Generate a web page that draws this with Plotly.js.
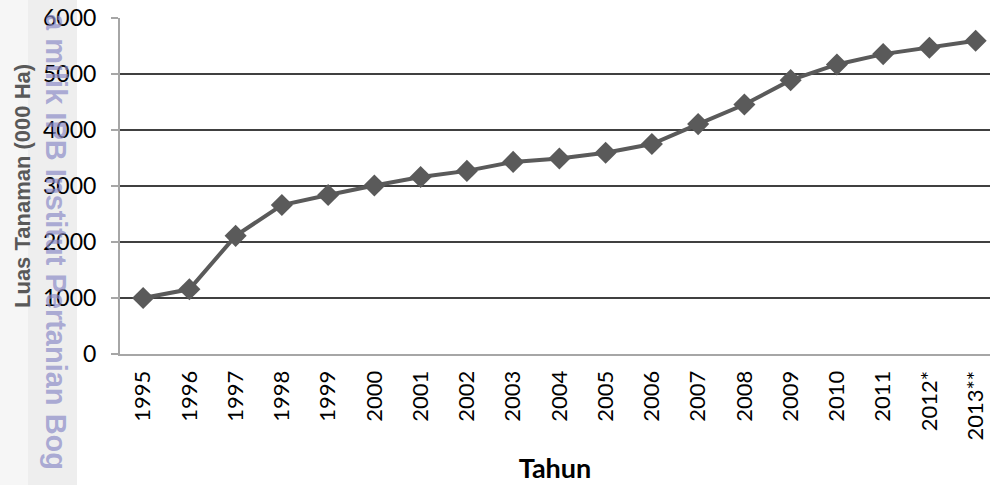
<!DOCTYPE html>
<html>
<head>
<meta charset="utf-8">
<script src="https://cdn.plot.ly/plotly-3.0.1.min.js"></script>
<style>html,body{margin:0;padding:0;background:#fff}#chart{width:990px;height:485px}</style>
</head>
<body>
<div id="chart"></div>
<script>
const years = ["1995","1996","1997","1998","1999","2000","2001","2002","2003","2004","2005","2006","2007","2008","2009","2010","2011","2012*","2013**"];
const luas = [1000,1155,2110,2660,2840,3010,3160,3270,3430,3490,3595,3750,4105,4455,4890,5170,5355,5470,5595];
const yTicks = [0,1000,2000,3000,4000,5000,6000];

const L = 120, W = 870, T = 18, H = 336;
const px = p => (p - L) / W;
const py = p => (T + H - p) / H;

const trace = {
  x: years, y: luas, type: 'scatter', mode: 'lines+markers',
  line: {color: '#5a5a5a', width: 4},
  marker: {symbol: 'diamond', size: 17, color: '#5a5a5a'},
  hoverinfo: 'x+y'
};

const layout = {
  width: 990, height: 485,
  margin: {l: L, r: 0, t: T, b: 485 - T - H},
  paper_bgcolor: '#ffffff', plot_bgcolor: '#ffffff',
  showlegend: false,
  font: {family: 'Lato, "Open Sans", sans-serif', color: '#000'},
  xaxis: {
    type: 'category', range: [-0.5, 18.31],
    tickangle: -90, tickfont: {size: 22, family: 'Lato, sans-serif', color: '#000'},
    showgrid: false, showline: true, linecolor: '#a6a6a6', linewidth: 2,
    ticks: '', ticklabelstandoff: 6,
    zeroline: false,
    title: {text: '<b>Tahun</b>', font: {size: 27, family: 'Lato, sans-serif', color: '#000'}, standoff: 20}
  },
  yaxis: {
    range: [0, 6000], tickvals: yTicks, ticktext: yTicks.map(String),
    tickfont: {size: 23, family: 'Lato, sans-serif', color: '#000'},
    showgrid: true, gridcolor: '#404040', gridwidth: 1.5,
    showline: true, linecolor: '#a6a6a6', linewidth: 2,
    ticks: 'outside', ticklen: 7, tickcolor: '#a6a6a6', tickwidth: 1.5,
    ticklabelstandoff: 10,
    zeroline: false,
    title: {text: ''}
  },
  shapes: [
    {type: 'rect', xref: 'paper', yref: 'paper', x0: px(0), x1: px(28), y0: py(485), y1: py(0), fillcolor: '#f6f6f6', line: {width: 0}, layer: 'below'},
    {type: 'rect', xref: 'paper', yref: 'paper', x0: px(28), x1: px(77), y0: py(485), y1: py(0), fillcolor: '#eeeeee', line: {width: 0}, layer: 'below'}
  ],
  annotations: [
    {xref: 'paper', yref: 'paper', x: px(22), y: py(186), xanchor: 'center', yanchor: 'middle',
     text: '<b>Luas Tanaman (000 Ha)</b>', textangle: -90, showarrow: false,
     font: {size: 22, family: '"Liberation Sans", Arial, sans-serif', color: '#595959'}},
    {xref: 'paper', yref: 'paper', x: px(56), y: py(12), xanchor: 'center', yanchor: 'top',
     text: '<b>a milik IPB Institut Pertanian Bog</b>', textangle: 90, showarrow: false,
     font: {size: 29, family: '"Liberation Sans", Arial, sans-serif', color: 'rgba(140,140,200,0.7)'}}
  ]
};

Plotly.newPlot('chart', [trace], layout, {displayModeBar: false, staticPlot: true});
</script>
</body>
</html>
